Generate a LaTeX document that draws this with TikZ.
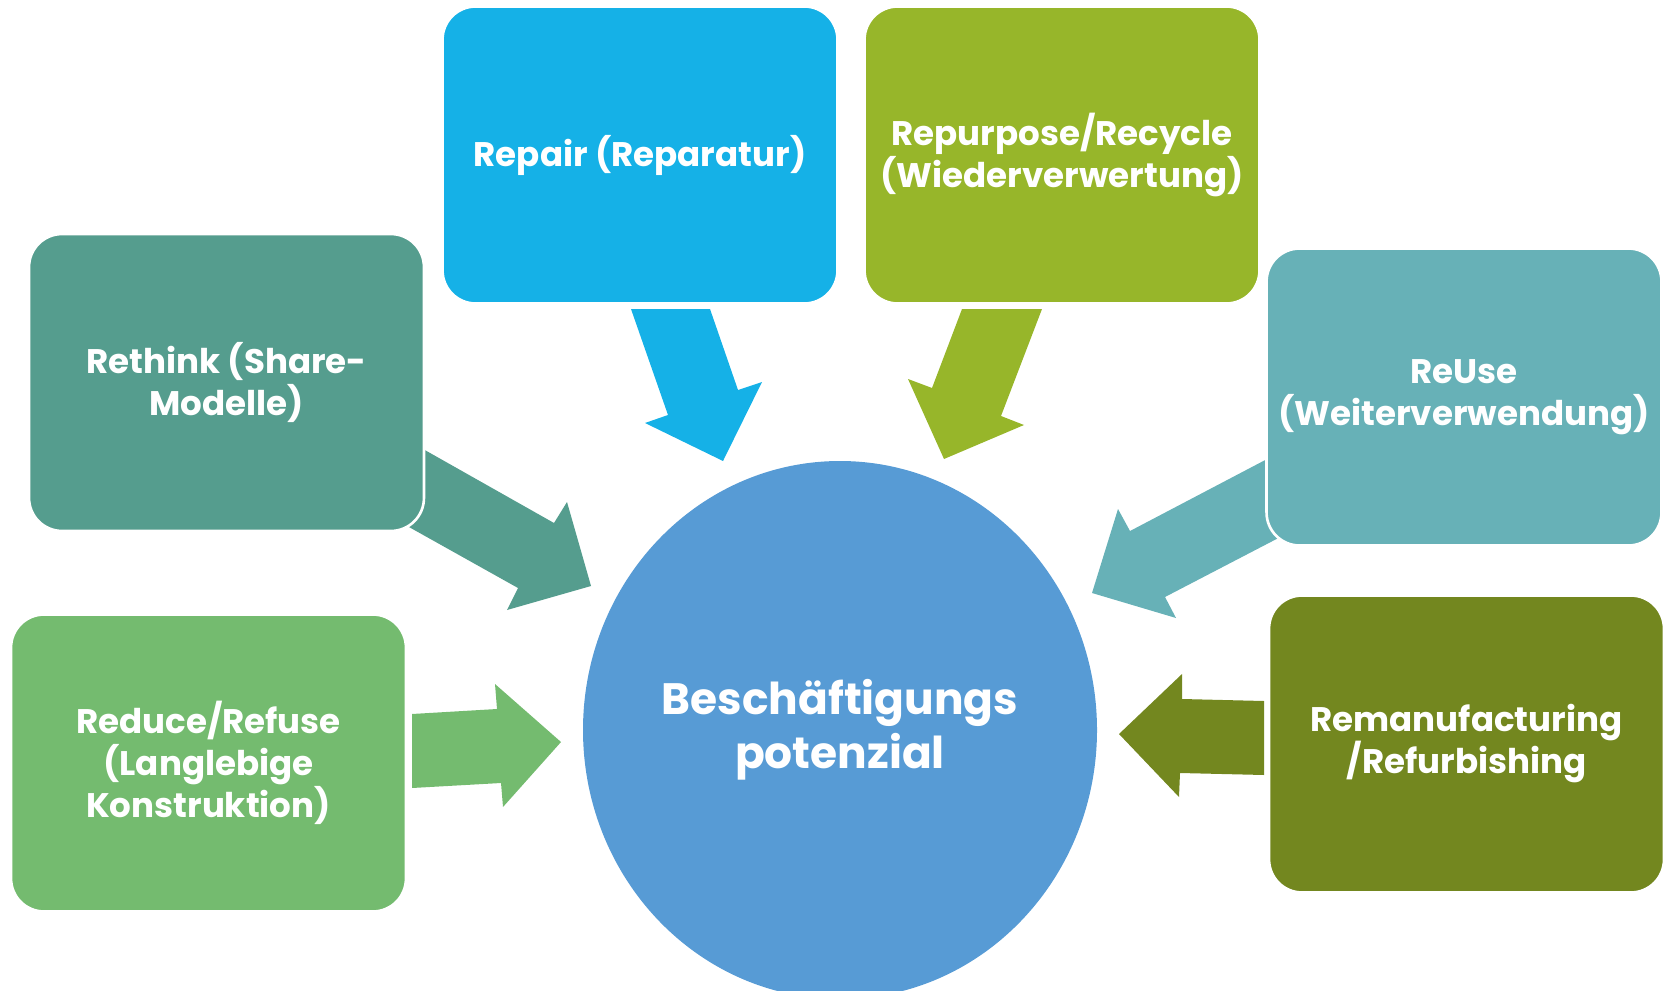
\documentclass[tikz,border=0pt]{standalone}
\usepackage{fontspec}
\setmainfont{Poppins}

\definecolor{rethinkgreen}{HTML}{559D8E}
\definecolor{repairblue}{HTML}{15B1E7}
\definecolor{recyclegreen}{HTML}{97B62A}
\definecolor{reusecyan}{HTML}{67B1B7}
\definecolor{reducegreen}{HTML}{74BB6F}
\definecolor{remanolive}{HTML}{73871F}
\definecolor{hubblue}{HTML}{579BD5}

\begin{document}
\begin{tikzpicture}[
  x=0.02cm, y=-0.02cm,
  every node/.style={align=center, text=white, font=\bfseries\fontsize{19.4}{23.9}\selectfont},
  box/.style={rectangle, rounded corners=0.66cm, draw=white, line width=1.5pt, minimum width=7.9cm, minimum height=5.94cm, inner sep=0pt},
  hub/.style={inner sep=0pt, font=\bfseries\fontsize{25}{30.7}\selectfont}
]
\useasboundingbox (0,0) rectangle (1669,990);

% --- BLOCK ARROWS (drawn first, tails run under the boxes) ---
\fill[rethinkgreen] (400,436) -- (554,523) -- (567,502) -- (591,586) -- (507,610) -- (518,588) -- (400,522) -- cycle;
\fill[repairblue] (631,309) -- (710,309) -- (738,390) -- (762,382) -- (723,461) -- (645,423) -- (668,415) -- cycle;
\fill[recyclegreen] (962,309) -- (1042,309) -- (1001,416) -- (1024,425) -- (944,459) -- (908,379) -- (932,388) -- cycle;
\fill[reusecyan] (1290,447) -- (1130,531) -- (1118,509) -- (1092,593) -- (1176,618) -- (1165,597) -- (1290,532) -- cycle;
\fill[reducegreen] (412,714) -- (497,709) -- (495,684) -- (561,742) -- (503,807) -- (501,783) -- (412,788) -- cycle;
\fill[remanolive] (1264,701) -- (1182,699) -- (1182,674) -- (1119,734) -- (1179,797) -- (1180,773) -- (1264,775) -- cycle;

% --- R-STRATEGY BOXES ---
\node[box, fill=rethinkgreen] (rethink) at (226.5,382.5) {Rethink (Share-\\Modelle)};
\node[box, fill=repairblue] (repair) at (640,155) {Repair (Reparatur)};
\node[box, fill=recyclegreen] (recycle) at (1062,155) {Repurpose/Recycle\\(Wiederverwertung)};
\node[box, fill=reusecyan] (reuse) at (1464,397) {ReUse\\(Weiterverwendung)};
\node[box, fill=reducegreen] (reduce) at (208.5,763) {Reduce/Refuse\\(Langlebige\\Konstruktion)};
\node[box, fill=remanolive] (reman) at (1466.5,744) {Remanufacturing\\/Refurbishing};

% --- CENTRE ---
\fill[hubblue] (840,730) ellipse [x radius=257, y radius=269];
\node[hub] (potenzial) at (840,730) {Beschäftigungs\\potenzial};

\end{tikzpicture}
\end{document}
